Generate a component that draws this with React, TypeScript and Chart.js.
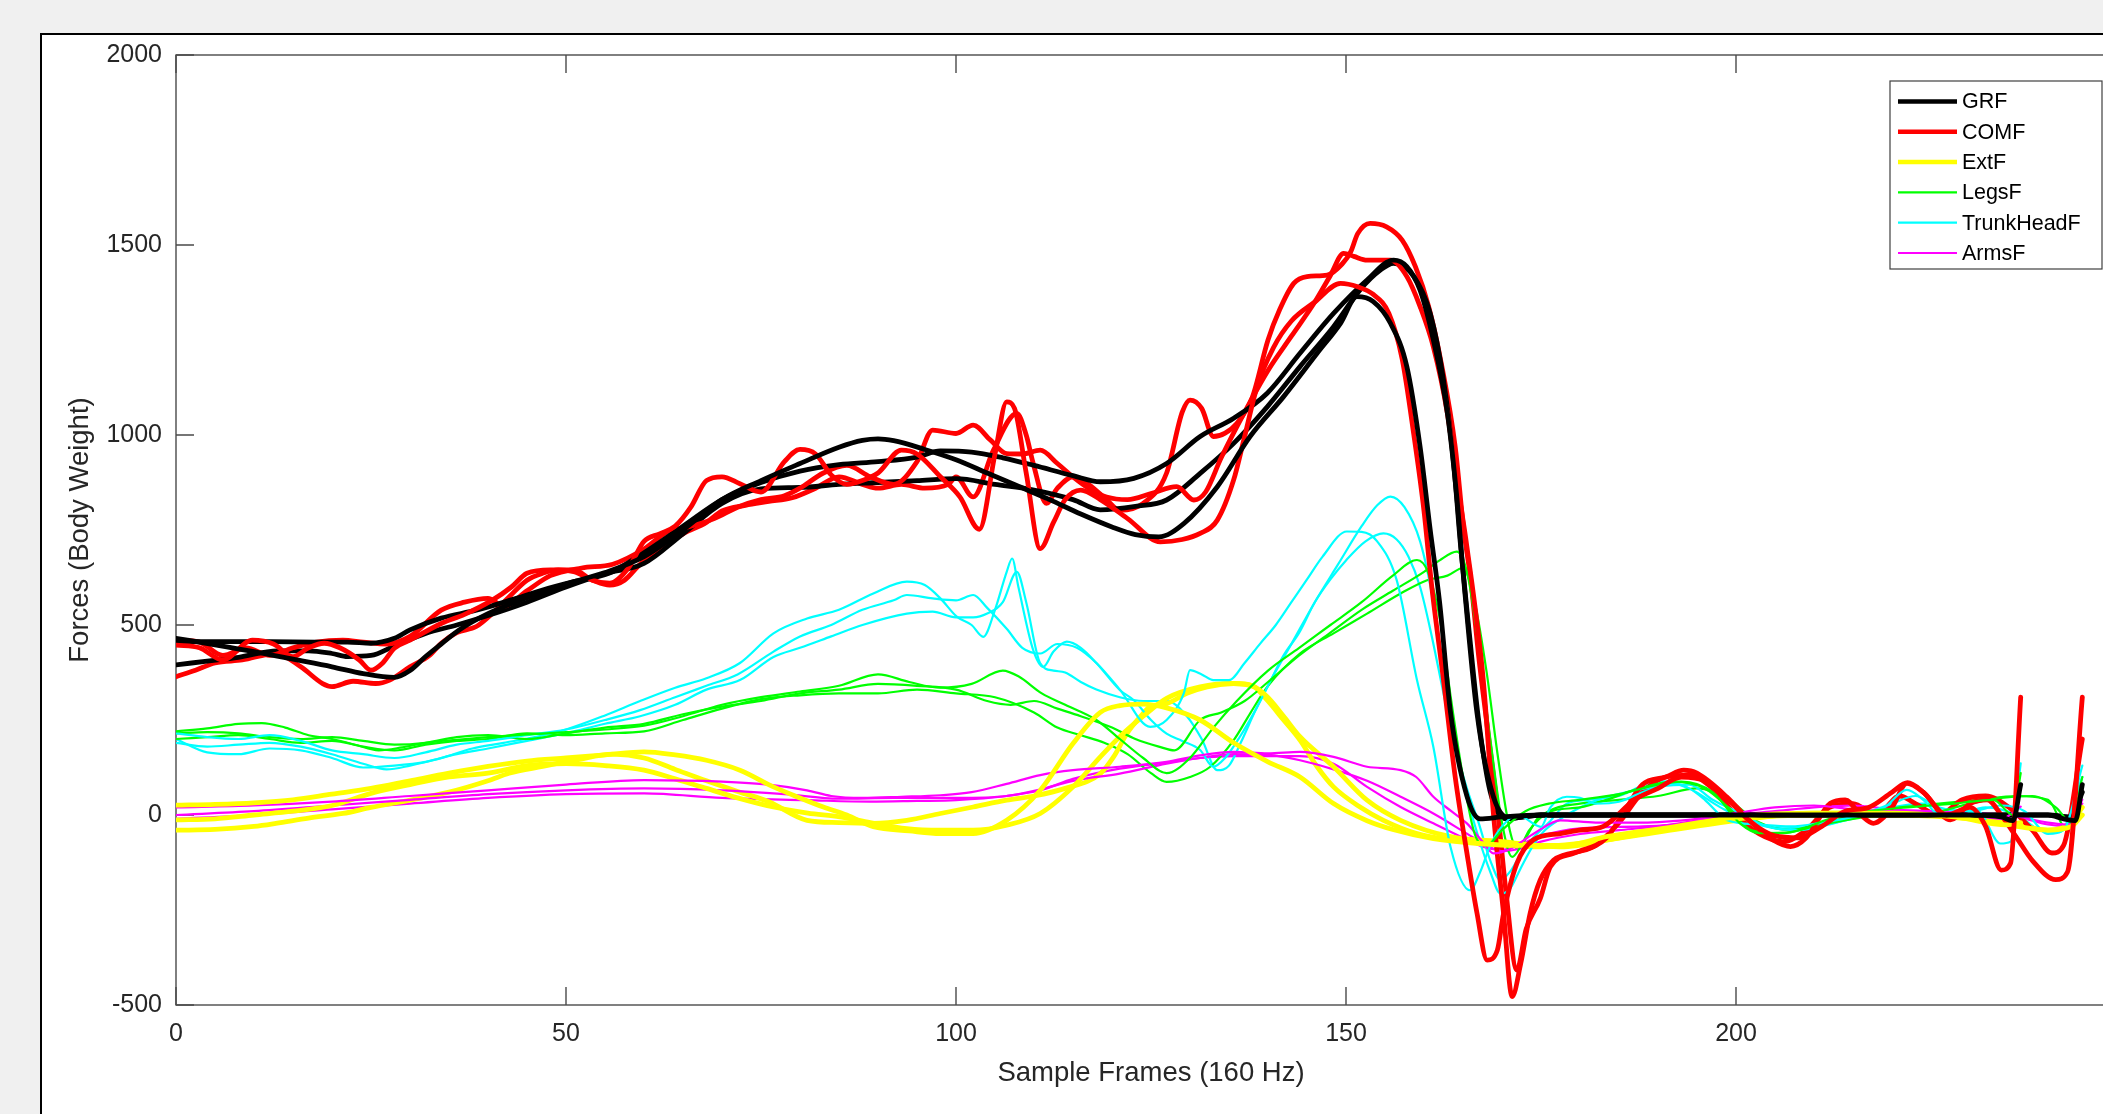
import React, { useEffect, useRef } from 'react';
import { Chart, registerables } from 'chart.js';

Chart.register(...registerables);

// ---------- series meta ----------
const seriesNames = ['GRF', 'COMF', 'ExtF', 'LegsF', 'TrunkHeadF', 'ArmsF'];
const seriesColors = ['#000000', '#ff0000', '#ffff00', '#00ff00', '#00ffff', '#ff00ff'];
const xTicks = [0, 50, 100, 150, 200, 250];
const yTicks = [-500, 0, 500, 1000, 1500, 2000];
const xTitle = 'Sample Frames (160 Hz)';
const yTitle = 'Forces (Body Weight)';

type P = [number, number][];

// ---------- GRF (3 trials) ----------
const grfA: P = [[0,465],[5,448],[10,430],[15,410],[20,390],[24,372],[28,362],[30,380],[32,417],[34,450],[36.3,487],[40,530],[45,572],[50,608],[55,638],[60,680],[65,750],[70,830],[75,880],[80,925],[85,968],[88,986],[90,990],[92,985],[96,962],[100,935],[104,900],[108,865],[112,830],[116,792],[120,758],[123,738],[126,732],[129.2,767],[133.5,864],[137.7,996],[142,1101],[146.3,1215],[149.3,1294],[151.4,1364],[153.5,1351],[155.7,1294],[157.8,1180],[159.5,969],[160.8,750],[162,560],[163.4,270],[165.5,50],[167.2,-10],[170,-5],[175,0],[190,0],[210,0],[230,0],[234,-5],[235.5,-15],[236.5,80]];
const grfB: P = [[0,456],[6,456],[12,456],[18,455],[22,455],[25,452],[28,465],[30,487],[34,518],[38.5,539],[43,566],[47,592],[51,614],[55.5,636],[60,690],[65,760],[70,830],[75,875],[80,905],[85,922],[90,930],[95,942],[98,958],[102,955],[106,940],[110,920],[115,893],[118.5,877],[122.8,886],[127,925],[131.3,996],[135.6,1044],[139.9,1110],[144.1,1215],[148.4,1320],[152.7,1408],[156.1,1460],[157.8,1443],[159.5,1381],[161.2,1250],[163,1057],[164.2,838],[165.1,618],[166.8,267],[168.9,48],[171,-9],[175,0],[200,0],[225,0],[240,0],[242,-10],[243.5,-15],[244.4,80]];
const grfC: P = [[0,395],[4,405],[8,415],[13,432],[17,432],[20,425],[22,417],[25,420],[28,445],[32,478],[36,500],[40,525],[45,560],[50,600],[55,635],[60,662],[65,740],[70,820],[75,858],[80,862],[85,870],[90,875],[95,880],[100,885],[105,870],[110,855],[115,830],[118.5,803],[123,812],[127,829],[131.3,899],[135.6,978],[139.9,1074],[144.1,1180],[148.4,1285],[151.8,1382],[154.4,1434],[156.1,1452],[158.7,1417],[160.8,1320],[162.5,1145],[163.8,925],[164.7,706],[165.8,480],[167,250],[168.5,60],[170.5,-10],[175,0],[200,0],[225,0],[240,0],[243,-5],[244.4,60]];

// ---------- COMF (3 trials) ----------
const comfA: P = [[0,447],[3,440],[6,408],[9.8,460],[12.5,450],[15,417],[17,440],[19,452],[21,440],[23.5,408],[25,381],[26.5,400],[28,439],[30,460],[34,504],[37,528],[40.6,566],[43,600],[45,636],[48,645],[51,645],[53.4,618],[55.6,610],[58,650],[60,720],[62,740],[64,760],[66,810],[68,880],[70,890],[72.3,872],[75,850],[78,930],[80,962],[82,950],[84,895],[86,870],[88,880],[90,900],[93,960],[95,950],[98,890],[100.5,837],[103,752],[105,950],[106.5,1087],[107.5,1070],[109,900],[110.8,701],[112.5,770],[114,830],[116,855],[118.5,830],[122,780],[126.2,719],[129,725],[131.3,741],[133.5,776],[135.6,882],[136.9,987],[138.6,1127],[140.7,1230],[143,1300],[146,1350],[149.3,1399],[151.5,1390],[153.5,1370],[155.5,1320],[157.2,1200],[158.7,1000],[160,800],[161,600],[162.5,355],[164,100],[165.5,-100],[166.8,-259],[168.1,-382],[169.4,-356],[170.2,-259],[171.9,-128],[174,-66],[177.5,-49],[180,-40],[183,-30],[187,40],[190,70],[193,100],[196,90],[199,40],[202,-20],[205,-55],[208,-60],[211,-30],[214,10],[217,20],[220,60],[222,85],[224,60],[227,0],[230,20],[232,-30],[234,-145],[235.2,-127],[236.5,310]];
const comfB: P = [[0,460],[3,455],[6,420],[9,440],[12,420],[15,440],[18,455],[21.4,460],[24,455],[27,450],[30,470],[34,539],[37,560],[40,570],[42,550],[45,590],[48,630],[52,650],[56,660],[60,700],[63,745],[66,760],[69,780],[72,810],[75,830],[78,840],[80,860],[83,900],[86,920],[89,890],[92,870],[95,930],[97,1013],[100,1004],[102.2,1026],[104.4,987],[106.5,951],[108.5,950],[110.8,960],[113,925],[115,890],[117,860],[119.3,837],[122,830],[125,846],[128.3,864],[130.5,829],[132,850],[134,940],[137,1060],[140,1170],[143,1260],[146,1350],[148,1420],[149.7,1478],[151,1470],[152.7,1460],[155.7,1460],[157.8,1417],[159.5,1338],[161.2,1232],[163,1057],[164.2,882],[165.5,706],[167.6,355],[168.9,4],[170.2,-259],[171.3,-478],[172.4,-391],[173.6,-259],[174.9,-171],[176.6,-119],[178,-105],[180,-95],[183.4,-60],[186,20],[188,80],[191,100],[193.3,118],[195,110],[198.8,48],[202,-20],[204.8,-66],[207,-83],[209,-60],[212.1,31],[214,40],[216,0],[217.6,-22],[220,20],[221.9,83],[224,60],[227.5,-13],[230,30],[232.2,40],[234,0],[236,-60],[238,-120],[241,-170],[242.5,-150],[244.4,310]];
const comfC: P = [[0,364],[2.5,381],[5,400],[8.5,408],[12.8,425],[16,390],[18.8,346],[20,338],[22.7,352],[25.6,346],[27.4,355],[30,390],[32.5,420],[34,452],[36,480],[38.5,496],[40.6,531],[42.7,574],[45,618],[47,636],[49,645],[51,640],[53.4,618],[55.6,605],[57.5,618],[59.5,660],[62,700],[65,740],[68,770],[70,800],[73,815],[76,825],[79,835],[82,860],[85,890],[88,870],[90,860],[93,870],[96,860],[99,870],[100,890],[102.2,837],[104.8,960],[107.8,1057],[109,1000],[109.9,925],[111.6,820],[113,860],[115,890],[117,870],[119.3,830],[121,802],[124,820],[127,900],[129,1060],[130,1092],[131.5,1070],[133,996],[134.5,1005],[136,1030],[138,1100],[140,1250],[141.5,1330],[143.3,1399],[145,1417],[147.6,1421],[149.5,1450],[150.6,1482],[151.5,1530],[153.1,1557],[155.2,1548],[157.2,1513],[158.9,1443],[160.6,1338],[162.3,1180],[164,969],[165.1,750],[166,618],[167,420],[168,250],[169.5,0],[170.5,-200],[171.9,-408],[173.1,-300],[174.9,-220],[176.2,-136],[179.2,-101],[182,-80],[185,-20],[188,60],[191,100],[194,105],[197,70],[200,0],[203,-50],[206,-70],[209,-40],[212,20],[215,30],[218,0],[221,50],[223,30],[226,0],[229,40],[232,50],[235,20],[238,-40],[240.5,-100],[242,-80],[244.4,200]];

// ---------- ExtF (3 trials) ----------
const extA: P = [[0,26],[5,28],[10,32],[15,40],[20,55],[25,70],[30,90],[35,110],[40,128],[45,142],[50,150],[55,158],[60,166],[64,158],[68,144],[72.3,118],[76.6,74],[80,45],[83,21],[86,0],[89.4,-31],[94,-42],[98,-49],[102.2,-49],[106.5,-14],[110.8,65],[115,188],[118.5,270],[121,288],[124,292],[127,282],[131.3,250],[135.6,190],[140,140],[144.1,100],[148.4,30],[152.7,-15],[156,-38],[161.2,-62],[167,-75],[172,-80],[178,-80],[183.4,-57],[192,-31],[200.5,-4],[210,5],[220,5],[228,-5],[234.7,-26],[236.5,-20]];
const extB: P = [[0,-13],[5,-10],[10,0],[15,10],[20,25],[25,57],[30,80],[35,100],[40,110],[45,130],[50,135],[55,130],[60,118],[64,95],[68,70],[72,45],[76.6,21],[81,5],[85.1,-5],[89,-20],[93.7,-36],[98,-40],[102.2,-40],[106.5,-27],[110.8,4],[115,74],[118.5,153],[121,206],[124,260],[127,307],[131.3,337],[135.6,346],[138,340],[139.9,311],[142,260],[144.1,206],[148.4,127],[152.7,39],[157,-14],[163.4,-57],[170,-70],[177.5,-84],[185,-60],[192,-35],[200,-10],[210,0],[220,0],[230,-10],[236,-30],[240,-40],[243,-30],[244.4,0]];
const extC: P = [[0,-40],[5,-38],[10,-30],[12.8,-22],[17,-8],[21.4,4],[25,20],[30,39],[35,60],[40,90],[42.7,110],[47,128],[51.3,145],[56,160],[60,150],[64,120],[68,90],[72.3,60],[76,35],[80.9,-14],[85,-20],[89.4,-22],[93.7,-14],[98,4],[102.2,21],[106.5,39],[110,50],[114,70],[118.5,109],[120.2,153],[121.9,214],[123.6,258],[124.9,285],[127,293],[129.6,320],[132.2,337],[135.6,346],[138.2,337],[139.9,302],[142,250],[144.1,197],[146.3,127],[148.4,74],[151.8,21],[154.8,-14],[159.1,-49],[163.4,-66],[167.6,-75],[174,-84],[180,-75],[190,-45],[200,-15],[210,5],[220,5],[230,-5],[236,-25],[240,-40],[243,-20],[244.4,20]];

// ---------- LegsF (3 trials) ----------
const legsA: P = [[0,220],[4,228],[8,240],[11,242],[14,230],[17,210],[20,200],[23,185],[26,170],[29,178],[32,190],[36,198],[40,205],[45,212],[50,218],[55,225],[60,235],[65,260],[70,290],[75,310],[80,325],[85,340],[90,370],[94,350],[98,335],[102,345],[106,380],[108,365],[111,320],[114,290],[118,250],[121,200],[124,150],[127,110],[130,150],[133,230],[136,300],[140,380],[144,440],[148,500],[152,560],[156,630],[159.1,671],[160.5,640],[162,520],[163.5,300],[165,100],[166.5,-50],[168,-80],[170,-40],[173,10],[176,30],[180,40],[185,55],[190,80],[193,88],[197,60],[200.5,-22],[203,-48],[207,-45],[212,-10],[217,10],[222,20],[228,30],[233,40],[235.5,0],[236.5,110]];
const legsB: P = [[0,215],[4,218],[8,215],[12,205],[16,200],[20,205],[24,195],[28,185],[32,190],[36,205],[40,210],[45,200],[50,215],[55,230],[60,240],[65,265],[70,285],[75,300],[80,320],[85,330],[90,345],[95,340],[100,330],[104,300],[107,290],[110,300],[113,280],[116,260],[120,230],[123,200],[126,180],[128,170],[131.3,250],[134,270],[137,300],[140,350],[144,420],[148,480],[152,540],[156,590],[160,640],[162,670],[164.2,693],[165.5,640],[167,450],[168.5,200],[170,-20],[171.3,-110],[172.5,-80],[175,0],[180,20],[183.4,40],[187,66],[192,88],[196,70],[199,20],[202,-40],[206,-48],[210,-30],[215,-10],[220,0],[225,5],[230,30],[234,45],[238,50],[241,20],[243,-20],[244.4,100]];
const legsC: P = [[0,200],[4,205],[8,210],[12,200],[16,190],[20,195],[24,180],[28,170],[32,185],[36,195],[40,200],[45,215],[50,210],[55,215],[60,220],[65,250],[70,280],[75,305],[80,315],[85,320],[90,320],[95,330],[100,320],[105,310],[110,270],[113,230],[116,210],[119,190],[122,160],[125,110],[127,87],[130,100],[132.6,127],[135.6,197],[137.7,267],[139.9,337],[144.1,425],[148.4,478],[152.7,530],[157,583],[160.4,618],[163,630],[165,650],[166.5,560],[168,380],[169.5,150],[171,-40],[172,-90],[173.5,-40],[176,10],[180,30],[185,40],[190,50],[195,70],[199,40],[203,-20],[207,-40],[211,-20],[216,0],[221,20],[226,30],[231,40],[236,50],[240,40],[242.5,-40],[244.4,80]];

// ---------- TrunkHeadF (3 trials) ----------
const trunkA: P = [[0,215],[4,205],[8,200],[12,210],[16,195],[20,170],[24,160],[28,150],[32,165],[36,185],[40,195],[45,210],[50,225],[55,250],[59.5,276],[64,310],[68,340],[72,370],[76.6,430],[80,470],[84,500],[88,540],[92,565],[93.7,579],[97,570],[100,565],[102.2,579],[104,545],[106.5,490],[108.5,440],[110.8,425],[113,450],[115.5,440],[118,400],[121,330],[124.9,232],[127,250],[129.2,320],[130,381],[131.5,370],[133,355],[135,355],[137,400],[139,451],[141,500],[143,560],[145,620],[147,680],[150.1,746],[152,745],[154,720],[156.5,618],[159.1,355],[161.2,179],[163.4,-84],[165.9,-198],[167.2,-150],[168.5,-80],[170,-30],[172,0],[175,-31],[176.2,20],[178.3,48],[180,45],[182,30],[185,35],[188,60],[192,83],[194,70],[196,40],[198.8,-13],[203,-25],[207,-30],[211,-20],[215,-5],[219,20],[221.9,66],[224,40],[226,0],[228,-5],[231,10],[233.9,-75],[235.2,-70],[236.5,136]];
const trunkB: P = [[0,190],[4,180],[8,185],[12,190],[16,180],[20,160],[24,135],[27,120],[30,130],[34,150],[38,175],[42,190],[46,205],[50,225],[55,262],[59.5,300],[64,335],[68,360],[72.3,400],[76.6,478],[80.9,517],[85,540],[89.4,583],[93.7,614],[96,605],[98,570],[100.1,522],[102,500],[103.5,469],[105,540],[106.5,640],[107.2,675],[108,600],[109.9,434],[111.2,390],[112.5,430],[114.2,456],[116,440],[118,400],[121,329],[122.8,302],[125,250],[127,214],[129,195],[131.3,171],[133,127],[134.5,150],[136.4,206],[138.5,280],[140.5,360],[143,450],[146,560],[149,660],[152,760],[154,815],[155.7,838],[157.5,810],[159.5,720],[161.2,560],[162.5,380],[164,200],[165.5,50],[167,-60],[168.5,-150],[169.8,-207],[171,-195],[172.4,-140],[174,-80],[175.5,-40],[177.5,-10],[180,20],[183,45],[186,60],[190,75],[194,80],[197,40],[200,10],[204,-30],[208,-40],[212,-25],[216,0],[220,30],[223,50],[226,20],[230,10],[234,25],[237,10],[240,-50],[242,-40],[244.4,130]];
const trunkC: P = [[0,200],[4,165],[8,160],[12,175],[16,170],[20,150],[24,125],[28,130],[32,140],[36,160],[40,175],[45,195],[50,215],[55,240],[59.5,260],[64,290],[68,330],[72.3,355],[76.6,416],[80,440],[84,470],[88,500],[93.7,530],[97,535],[100,520],[102.2,520],[104,530],[106,560],[107.8,640],[109,560],[110.8,399],[112.5,380],[114,375],[116,350],[118,330],[121,310],[124,300],[127,300],[129.6,260],[131.5,200],[133.5,118],[135,130],[136.5,190],[138.5,280],[140,340],[142,420],[144,480],[146,560],[148,620],[150,670],[152.5,720],[154.8,741],[156.5,725],[158,680],[159.5,600],[161,470],[162.5,320],[164,180],[165.5,70],[167,-20],[168.5,-120],[169.8,-171],[171,-150],[172.5,-100],[174,-60],[176,-20],[178.3,30],[181,40],[185,50],[190,90],[194,70],[198,20],[202,-20],[206,-35],[210,-30],[215,-10],[220,20],[224,30],[228,0],[232,20],[236,0],[239,-40],[241.5,-45],[244.4,100]];

// ---------- ArmsF (3 trials) ----------
const armsA: P = [[0,20],[10,25],[20,35],[30,50],[40,65],[50,80],[60,92],[70,88],[76,80],[80.9,65],[84,50],[88,45],[93,48],[98,52],[102,60],[106.5,82],[110.8,105],[115,118],[121,127],[127,140],[131.3,157],[135.6,166],[140,162],[144.1,166],[148.4,153],[152.7,127],[157,118],[159,100],[161.2,48],[163.5,10],[165.5,-22],[167.5,-70],[168.9,-101],[171,-90],[174,-50],[177.5,-14],[182,-20],[188,-20],[195,-10],[200,5],[205,20],[210,25],[215,15],[220,10],[225,5],[230,0],[234,-10],[236.5,22]];
const armsB: P = [[0,0],[10,10],[20,25],[30,40],[40,55],[50,65],[60,70],[70,65],[78,55],[85,43],[92,45],[100,45],[106.5,50],[110.8,67],[115,90],[121,109],[127,135],[131.3,150],[135.6,160],[140,158],[144.1,144],[148.4,120],[152.7,90],[157,48],[161.2,4],[165.5,-49],[168,-80],[170,-95],[172,-90],[175,-70],[180,-50],[185,-40],[190,-30],[195,-15],[200,0],[205,10],[210,20],[215,25],[220,15],[225,10],[230,5],[235,0],[240,-20],[242.5,-25],[244.4,40]];
const armsC: P = [[0,-10],[10,0],[20,15],[30,30],[40,45],[50,55],[60,57],[70,45],[80.9,39],[89,35],[95,37],[100,39],[106.5,50],[110.8,65],[115,95],[121,122],[127,138],[131.3,150],[135.6,155],[144.1,155],[148.4,135],[152.7,74],[157,21],[161.2,-22],[165,-60],[167.6,-84],[170,-92],[172,-80],[175,-55],[180,-35],[188,-30],[195,-20],[200,-5],[205,0],[210,5],[220,10],[230,5],[236,-5],[240,-25],[243,-30],[244.4,30]];

const trialsBySeries: P[][] = [
  [grfA, grfB, grfC],
  [comfA, comfB, comfC],
  [extA, extB, extC],
  [legsA, legsB, legsC],
  [trunkA, trunkB, trunkC],
  [armsA, armsB, armsC],
];

const FONT = '"Liberation Sans", Arial, Helvetica, sans-serif';
const thick = [true, true, true, false, false, false];

const axesPlugin = {
  id: 'matlabAxes',
  beforeDatasetsDraw(chart: any) {
    const { ctx, chartArea, scales } = chart;
    const { left, right, top, bottom } = chartArea;
    ctx.save();
    ctx.strokeStyle = '#4a4a4a';
    ctx.lineWidth = 1.4;
    ctx.strokeRect(left, top, right - left, bottom - top);
    ctx.beginPath();
    const tl = 18;
    xTicks.forEach((v) => {
      const px = scales.x.getPixelForValue(v);
      ctx.moveTo(px, bottom); ctx.lineTo(px, bottom - tl);
      ctx.moveTo(px, top); ctx.lineTo(px, top + tl);
    });
    yTicks.forEach((v) => {
      const py = scales.y.getPixelForValue(v);
      ctx.moveTo(left, py); ctx.lineTo(left + tl, py);
      ctx.moveTo(right, py); ctx.lineTo(right - tl, py);
    });
    ctx.stroke();
    ctx.restore();
  },
};

const legendPlugin = {
  id: 'matlabLegend',
  afterDraw(chart: any) {
    const { ctx, chartArea } = chart;
    const bx = chartArea.right - 236;
    const by = chartArea.top + 26;
    const bw = 212;
    const bh = 188;
    ctx.save();
    ctx.fillStyle = '#ffffff';
    ctx.fillRect(bx, by, bw, bh);
    ctx.strokeStyle = '#404040';
    ctx.lineWidth = 1.2;
    ctx.strokeRect(bx, by, bw, bh);
    ctx.font = `21.5px ${FONT}`;
    ctx.textBaseline = 'middle';
    ctx.textAlign = 'left';
    seriesNames.forEach((name, i) => {
      const cy = by + 20.5 + i * 30.3;
      ctx.strokeStyle = seriesColors[i];
      ctx.lineWidth = thick[i] ? 4.5 : 2.2;
      ctx.beginPath();
      ctx.moveTo(bx + 8, cy);
      ctx.lineTo(bx + 67, cy);
      ctx.stroke();
      ctx.fillStyle = '#000000';
      ctx.fillText(name, bx + 72, cy + 1);
    });
    ctx.restore();
  },
};

export default function App() {
  const ref = useRef<HTMLCanvasElement | null>(null);

  useEffect(() => {
    if (!ref.current) return;
    const datasets: any[] = [];
    for (let t = 0; t < 3; t++) {
      for (let s = 0; s < seriesNames.length; s++) {
        datasets.push({
          label: seriesNames[s],
          data: trialsBySeries[s][t].map(([x, y]) => ({ x, y })),
          borderColor: seriesColors[s],
          backgroundColor: seriesColors[s],
          borderWidth: thick[s] ? 4.8 : 2.2,
          pointRadius: 0,
          pointHoverRadius: 0,
          cubicInterpolationMode: 'monotone',
          fill: false,
          borderJoinStyle: 'round',
          borderCapStyle: 'round',
        });
      }
    }
    const tickFmt = (v: any) => String(v);
    const chart = new Chart(ref.current, {
      type: 'line',
      data: { datasets },
      options: {
        animation: false,
        responsive: false,
        devicePixelRatio: 1,
        events: [],
        layout: { autoPadding: false, padding: { top: 55, right: 74, left: 0, bottom: 0 } },
        plugins: { legend: { display: false }, tooltip: { enabled: false } },
        scales: {
          x: {
            type: 'linear',
            min: 0,
            max: 250,
            afterFit: (scale: any) => { scale.height = 109; },
            afterBuildTicks: (scale: any) => { scale.ticks = xTicks.map((v) => ({ value: v })); },
            grid: { display: false, drawTicks: false },
            border: { display: false },
            ticks: { padding: 14, color: '#262626', font: { family: FONT, size: 25 }, maxRotation: 0, autoSkip: false, callback: tickFmt },
            title: { display: true, text: xTitle, color: '#262626', font: { family: FONT, size: 27.5 }, padding: { top: 0, bottom: 24 } },
          },
          y: {
            type: 'linear',
            min: -500,
            max: 2000,
            afterFit: (scale: any) => { scale.width = 176; },
            afterBuildTicks: (scale: any) => { scale.ticks = yTicks.map((v) => ({ value: v })); },
            grid: { display: false, drawTicks: false },
            border: { display: false },
            ticks: { padding: 14, color: '#262626', font: { family: FONT, size: 25 }, autoSkip: false, callback: tickFmt },
            title: { display: true, text: yTitle, color: '#262626', font: { family: FONT, size: 27.5 }, padding: { top: 64, bottom: 0 } },
          },
        },
      },
      plugins: [axesPlugin, legendPlugin],
    });
    return () => chart.destroy();
  }, []);

  return (
    <div style={{ position: 'fixed', left: 0, top: 0, width: '100vw', height: '100vh', background: '#f0f0f0', overflow: 'hidden' }}>
      <div style={{ position: 'absolute', left: 40, top: 33, width: 2300, height: 1300, background: '#ffffff', border: '2px solid #000000', boxSizing: 'border-box' }} />
      <canvas ref={ref} width={2200} height={1114} style={{ position: 'absolute', left: 0, top: 0, width: 2200, height: 1114 }} />
    </div>
  );
}
